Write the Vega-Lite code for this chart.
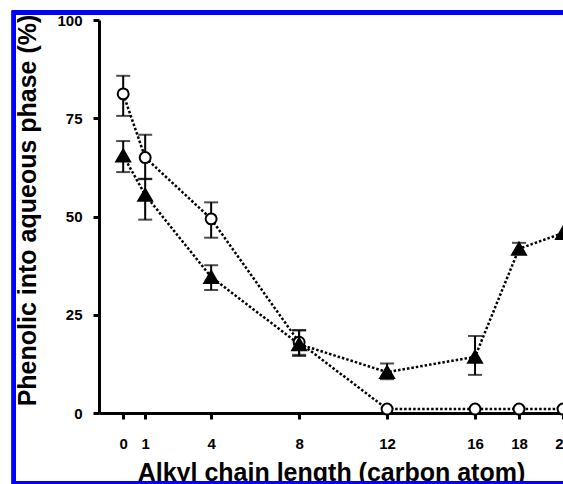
{
  "$schema": "https://vega.github.io/schema/vega-lite/v6.json",
  "width": 464,
  "height": 393,
  "autosize": {"type": "none"},
  "padding": {"left": 99, "top": 20, "right": 0, "bottom": 71},
  "background": "white",
  "config": {
    "view": {"stroke": null},
    "font": "Liberation Sans",
    "axis": {
      "grid": false,
      "labelFlush": false,
      "domainColor": "black",
      "domainWidth": 3,
      "tickColor": "black",
      "tickWidth": 3,
      "tickSize": 6,
      "labelFont": "Liberation Sans",
      "labelFontWeight": "bold",
      "labelFontSize": 15,
      "labelColor": "black",
      "titleFont": "Liberation Sans",
      "titleFontWeight": "bold",
      "titleFontSize": 25,
      "titleColor": "black"
    }
  },
  "data": {
    "values": [
      {"series": "open", "carbon": 0, "value": 81.2, "lo": 75.6, "hi": 85.8},
      {"series": "open", "carbon": 1, "value": 65.0, "lo": 59.5, "hi": 70.8},
      {"series": "open", "carbon": 4, "value": 49.4, "lo": 44.6, "hi": 53.6},
      {"series": "open", "carbon": 8, "value": 18.0, "lo": 14.8, "hi": 21.0},
      {"series": "open", "carbon": 12, "value": 1.0, "lo": null, "hi": null},
      {"series": "open", "carbon": 16, "value": 1.0, "lo": null, "hi": null},
      {"series": "open", "carbon": 18, "value": 1.0, "lo": null, "hi": null},
      {"series": "open", "carbon": 20, "value": 1.0, "lo": null, "hi": null},
      {"series": "filled", "carbon": 0, "value": 65.5, "lo": 61.3, "hi": 69.2},
      {"series": "filled", "carbon": 1, "value": 55.5, "lo": 49.2, "hi": 59.6},
      {"series": "filled", "carbon": 4, "value": 34.6, "lo": 31.3, "hi": 37.6},
      {"series": "filled", "carbon": 8, "value": 17.5, "lo": 14.5, "hi": 21.1},
      {"series": "filled", "carbon": 12, "value": 10.4, "lo": 8.6, "hi": 12.6},
      {"series": "filled", "carbon": 16, "value": 14.3, "lo": 9.7, "hi": 19.6},
      {"series": "filled", "carbon": 18, "value": 41.8, "lo": 40.5, "hi": 43.3},
      {"series": "filled", "carbon": 20, "value": 45.8, "lo": null, "hi": null}
    ]
  },
  "layer": [
    {
      "mark": {"type": "line", "color": "black", "strokeWidth": 2.5, "strokeDash": [2.5, 2]},
      "encoding": {
        "x": {"field": "carbon", "type": "quantitative", "scale": {"domain": [-1.1, 20], "nice": false, "zero": false},
          "axis": {"values": [0, 1, 4, 8, 12, 16, 18, 20], "title": "Alkyl chain length (carbon atom)", "labelPadding": 17, "labelBaseline": "top", "titleX": 232, "titleY": 67, "titleBaseline": "alphabetic", "titleAlign": "center"}},
        "y": {"field": "value", "type": "quantitative", "scale": {"domain": [0, 100], "nice": false},
          "axis": {"values": [0, 25, 50, 75, 100], "title": "Phenolic into aqueous phase (%)", "labelPadding": 11, "titleAngle": -90, "titleX": -72, "titleY": 190, "titleBaseline": "middle", "titleAlign": "center"}},
        "detail": {"field": "series"}
      }
    },
    {
      "transform": [{"filter": "datum.lo != null"}],
      "mark": {"type": "rule", "color": "black", "strokeWidth": 2},
      "encoding": {
        "x": {"field": "carbon", "type": "quantitative"},
        "y": {"field": "lo", "type": "quantitative"},
        "y2": {"field": "hi"}
      }
    },
    {
      "transform": [{"filter": "datum.lo != null"}],
      "mark": {"type": "tick", "orient": "horizontal", "color": "black", "size": 14, "thickness": 2},
      "encoding": {
        "x": {"field": "carbon", "type": "quantitative"},
        "y": {"field": "lo", "type": "quantitative"}
      }
    },
    {
      "transform": [{"filter": "datum.lo != null"}],
      "mark": {"type": "tick", "orient": "horizontal", "color": "black", "size": 14, "thickness": 2},
      "encoding": {
        "x": {"field": "carbon", "type": "quantitative"},
        "y": {"field": "hi", "type": "quantitative"}
      }
    },
    {
      "mark": {"type": "point", "filled": true, "stroke": "black", "strokeWidth": 2, "opacity": 1},
      "encoding": {
        "x": {"field": "carbon", "type": "quantitative"},
        "y": {"field": "value", "type": "quantitative"},
        "shape": {"field": "series", "type": "nominal", "scale": {"domain": ["open", "filled"], "range": ["circle", "triangle-up"]}, "legend": null},
        "fill": {"field": "series", "type": "nominal", "scale": {"domain": ["open", "filled"], "range": ["white", "black"]}, "legend": null},
        "size": {"field": "series", "type": "nominal", "scale": {"domain": ["open", "filled"], "range": [120, 190]}, "legend": null}
      }
    },
    {
      "mark": {"type": "rule", "stroke": "#0000ff", "strokeWidth": 4, "clip": false},
      "encoding": {
        "x": {"datum": -4.97, "type": "quantitative"},
        "y": {"datum": 102.4, "type": "quantitative"},
        "y2": {"datum": -18.3}
      }
    },
    {
      "mark": {"type": "rule", "stroke": "#0000ff", "strokeWidth": 4, "clip": false},
      "encoding": {
        "x": {"datum": -4.97, "type": "quantitative"},
        "x2": {"datum": 19.97},
        "y": {"datum": 101.9, "type": "quantitative"}
      }
    },
    {
      "mark": {"type": "rule", "stroke": "#0000ff", "strokeWidth": 4, "clip": false},
      "encoding": {
        "x": {"datum": -4.97, "type": "quantitative"},
        "x2": {"datum": 19.97},
        "y": {"datum": -17.8, "type": "quantitative"}
      }
    }
  ]
}
